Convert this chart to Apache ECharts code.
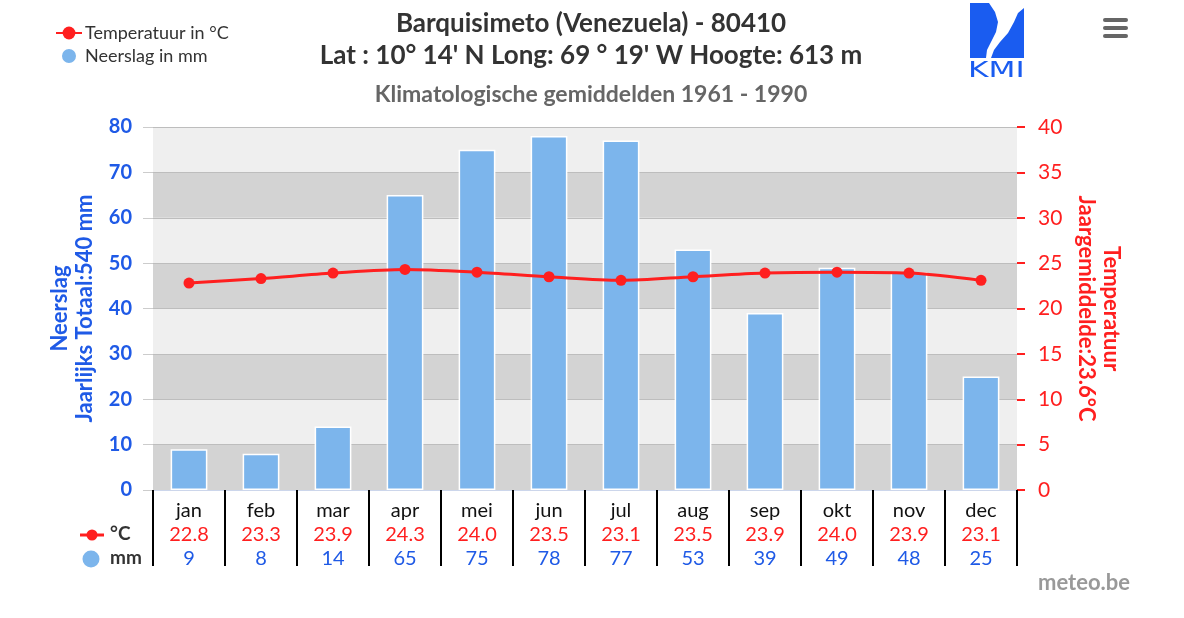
<!DOCTYPE html>
<html>
<head>
<meta charset="utf-8">
<script src="https://cdn.jsdelivr.net/npm/echarts@6/dist/echarts.min.js"></script>
<style>html,body{margin:0;padding:0;background:#fff}#c{width:1184px;height:618px}</style>
</head>
<body>
<div id="c"></div>
<script>
const months = ['jan','feb','mar','apr','mei','jun','jul','aug','sep','okt','nov','dec'];
const temperature = [22.8,23.3,23.9,24.3,24.0,23.5,23.1,23.5,23.9,24.0,23.9,23.1];
const precipitation = [9,8,14,65,75,78,77,53,39,49,48,25];
const precipTicks = [0,10,20,30,40,50,60,70,80];
const tempTicks = [0,5,10,15,20,25,30,35,40];

const BLUE = '#1f5ae6', RED = '#ff1f1f', BAR = '#7cb5ec', FONT = 'Lato';
const chart = echarts.init(document.getElementById('c'));
chart.setOption({
  animation: false,
  textStyle: { fontFamily: FONT },
  title: [
    { text: 'Barquisimeto (Venezuela) - 80410\nLat : 10° 14\' N Long: 69 ° 19\' W Hoogte: 613 m',
      left: 586, top: 3, textAlign: 'center',
      textStyle: { fontSize: 26, fontWeight: 'bold', color: '#333', lineHeight: 32, fontFamily: FONT } },
    { text: 'Klimatologische gemiddelden 1961 - 1990', left: 586, top: 78, textAlign: 'center',
      textStyle: { fontSize: 23, fontWeight: 'bold', color: '#666', fontFamily: FONT } },
    { text: 'meteo.be', left: 1033, top: 567,
      textStyle: { fontSize: 22, fontWeight: 'bold', color: '#999', fontFamily: FONT } }
  ],
  legend: {
    orient: 'vertical', left: 50, top: 19, itemGap: 5, itemWidth: 26, itemHeight: 16,
    textStyle: { fontSize: 18, color: '#333', fontFamily: FONT, padding: [0, 0, 0, -2] },
    data: [{ name: 'Temperatuur in °C' }, { name: 'Neerslag in mm', icon: 'circle' }]
  },
  grid: { left: 153, right: 167, top: 127, bottom: 128 },
  xAxis: {
    type: 'category', data: months, boundaryGap: true,
    axisLine: { show: true, lineStyle: { color: '#ccd6eb', width: 1 } },
    axisTick: { show: true, length: 76, lineStyle: { color: '#000', width: 2 } },
    axisLabel: {
      margin: 9, interval: 0,
      formatter: (v, i) => `{m|${v}}\n{t|${temperature[i].toFixed(1)}}\n{p|${precipitation[i]}}`,
      rich: {
        m: { fontSize: 20, color: '#111', lineHeight: 24, fontFamily: FONT },
        t: { fontSize: 20, color: RED, lineHeight: 24, fontFamily: FONT },
        p: { fontSize: 20, color: BLUE, lineHeight: 24, fontFamily: FONT }
      }
    }
  },
  yAxis: [
    { type: 'value', min: 0, max: 80, interval: 10, position: 'left',
      name: 'Neerslag\nJaarlijks Totaal:540 mm', nameLocation: 'middle', nameRotate: 90, nameGap: 53,
      nameTextStyle: { color: BLUE, fontSize: 22, fontWeight: 'bold', lineHeight: 25, fontFamily: FONT },
      axisLine: { show: false },
      axisTick: { show: true, length: 10, lineStyle: { color: '#ccc' } },
      axisLabel: { color: BLUE, fontSize: 20, fontWeight: 'bold', margin: 21, fontFamily: FONT,
        formatter: v => precipTicks.includes(v) ? String(v) : '' },
      splitLine: { show: true, lineStyle: { color: '#bdbdbd', width: 1 } },
      splitArea: { show: true, areaStyle: { color: ['#d3d3d3', '#efefef'] } }
    },
    { type: 'value', min: 0, max: 40, interval: 5, position: 'right',
      name: 'Temperatuur\nJaargemiddelde:23.6°C', nameLocation: 'middle', nameRotate: -90, nameGap: 56,
      nameTextStyle: { color: RED, fontSize: 22, fontWeight: 'bold', lineHeight: 25, fontFamily: FONT },
      axisLine: { show: false },
      axisTick: { show: true, length: 8, lineStyle: { color: RED, width: 2 } },
      axisLabel: { color: RED, fontSize: 21, margin: 21, fontFamily: FONT,
        formatter: v => tempTicks.includes(v) ? String(v) : '' },
      splitLine: { show: false }
    }
  ],
  series: [
    { name: 'Neerslag in mm', type: 'bar', yAxisIndex: 0, data: precipitation, barWidth: '51%',
      itemStyle: { color: BAR, borderColor: '#fff', borderWidth: 1.5 }, z: 2 },
    { name: 'Temperatuur in °C', type: 'line', yAxisIndex: 1, data: temperature, smooth: 0.3,
      symbol: 'circle', symbolSize: 11, lineStyle: { color: RED, width: 3 },
      itemStyle: { color: RED }, z: 3 }
  ],
  graphic: [
    { type: 'line', shape: { x1: 80, y1: 535, x2: 104, y2: 535 }, style: { stroke: RED, lineWidth: 3 } },
    { type: 'circle', shape: { cx: 92, cy: 535, r: 5.5 }, style: { fill: RED } },
    { type: 'text', x: 110, y: 524, style: { text: '°C', fontSize: 19, fontWeight: 'bold', fill: '#333', fontFamily: FONT } },
    { type: 'circle', shape: { cx: 91, cy: 559, r: 8.5 }, style: { fill: BAR } },
    { type: 'text', x: 110, y: 548, style: { text: 'mm', fontSize: 19, fontWeight: 'bold', fill: '#333', fontFamily: FONT } },
    { type: 'rect', shape: { x: 970, y: 3, width: 54, height: 55 }, style: { fill: '#1a5cf0' } },
    { type: 'polygon', shape: { points: [[989,3],[995,12],[998,22],[996,32],[991,42],[987,50],[986,58],[991,58],[994,50],[1000,42],[1008,33],[1014,22],[1018,13],[1024,8],[1024,3]] }, style: { fill: '#fff' } },
    { type: 'text', x: 968, y: 60, scaleX: 1.42, style: { text: 'KMI', fontSize: 22, fill: '#1a5cf0', fontFamily: 'DejaVu Sans' } },
    { type: 'rect', shape: { x: 1103, y: 18, width: 25, height: 4, r: 2 }, style: { fill: '#666' } },
    { type: 'rect', shape: { x: 1103, y: 26, width: 25, height: 4, r: 2 }, style: { fill: '#666' } },
    { type: 'rect', shape: { x: 1103, y: 34, width: 25, height: 4, r: 2 }, style: { fill: '#666' } }
  ]
});
</script>
</body>
</html>
